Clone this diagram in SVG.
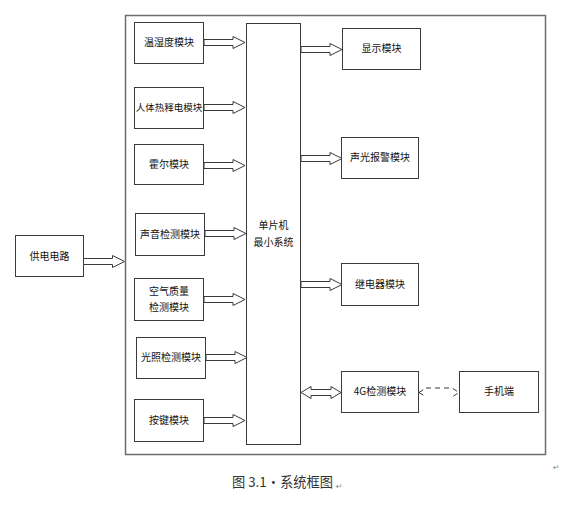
<svg xmlns="http://www.w3.org/2000/svg" width="573" height="514" viewBox="0 0 573 514">
<style>
.box{fill:#fff;stroke:#3a3a3a;stroke-width:1}
.outer{fill:#fff;stroke:#6e6e6e;stroke-width:1.5}
.t{font-family:"Noto Sans CJK SC","Noto Sans",sans-serif;font-size:10px;fill:#111;text-anchor:middle}
.arr{fill:#fff;stroke:#3a3a3a;stroke-width:1}
.cap{font-family:"Noto Sans CJK SC","Liberation Sans",sans-serif;font-size:13.5px;fill:#333}
.mark{font-family:"DejaVu Sans",sans-serif;font-size:8px;fill:#888}
</style>
<defs>
<path id="ra" class="arr" d="M0,-3 H29 V-6 L41,0 L29,6 V3 H0 Z"/>
<path id="da" class="arr" d="M0,0 L10,-6 V-3 H30 V-6 L40,0 L30,6 V3 H10 V6 Z"/>
</defs>
<rect class="outer" x="125.5" y="15.5" width="420" height="439"/>
<g id="power"><rect class="box" x="15.5" y="235.5" width="68" height="41"/><text class="t" x="49.5" y="259.5">供电电路</text></g>
<g id="mcu"><rect class="box" x="246.5" y="23.5" width="54" height="421"/><text class="t" x="273.5" y="229">单片机</text><text class="t" x="273.5" y="246">最小系统</text></g>
<g id="n1"><rect class="box" x="134.5" y="22.5" width="69" height="41"/><text class="t" x="169" y="46">温湿度模块</text></g>
<g id="n2"><rect class="box" x="134.5" y="87.5" width="69" height="41"/><text class="t" x="169" y="111" style="font-size:9.5px">人体热释电模块</text></g>
<g id="n3"><rect class="box" x="134.5" y="144.5" width="69" height="40"/><text class="t" x="169" y="168">霍尔模块</text></g>
<g id="n4"><rect class="box" x="135.5" y="213.5" width="69" height="42"/><text class="t" x="170" y="238">声音检测模块</text></g>
<g id="n5"><rect class="box" x="134.5" y="278.5" width="69" height="42"/><text class="t" x="169" y="295">空气质量</text><text class="t" x="169" y="311">检测模块</text></g>
<g id="n6"><rect class="box" x="136.5" y="337.5" width="69" height="41"/><text class="t" x="171" y="361">光照检测模块</text></g>
<g id="n7"><rect class="box" x="134.5" y="399.5" width="69" height="42"/><text class="t" x="169" y="424">按键模块</text></g>
<g id="o1"><rect class="box" x="342.5" y="28.5" width="78" height="41"/><text class="t" x="381.5" y="52">显示模块</text></g>
<g id="o2"><rect class="box" x="341.5" y="137.5" width="77" height="41"/><text class="t" x="380" y="161">声光报警模块</text></g>
<g id="o3"><rect class="box" x="341.5" y="263.5" width="77" height="42"/><text class="t" x="380" y="288">继电器模块</text></g>
<g id="o4"><rect class="box" x="341.5" y="371.5" width="77" height="41"/><text class="t" x="380" y="395">4G检测模块</text></g>
<g id="phone"><rect class="box" x="459.5" y="371.5" width="79" height="41"/><text class="t" x="499" y="395">手机端</text></g>
<g id="connectors">
<use href="#ra" x="83.5" y="261.5"/>
<use href="#ra" x="204" y="42.5"/>
<use href="#ra" x="204" y="107.5"/>
<use href="#ra" x="204" y="165.5"/>
<use href="#ra" x="205" y="233.5"/>
<use href="#ra" x="204" y="299.5"/>
<use href="#ra" x="206" y="357.5"/>
<use href="#ra" x="204" y="420.5"/>
<use href="#ra" x="301" y="49.5"/>
<use href="#ra" x="301" y="158.5"/>
<use href="#ra" x="301" y="284.5"/>
<use href="#da" x="301" y="392.5"/>
<path d="M419,392.5 L426,388 M426,388 H452 L459,392.5 L452,397 M419,392.5 L426,397" fill="none" stroke="#3a3a3a" stroke-width="1" stroke-dasharray="5,4"/>
</g>
<text class="cap" x="232" y="487" textLength="101" lengthAdjust="spacingAndGlyphs">图 3.1·系统框图</text>
<text class="mark" x="336" y="489">↵</text>
<text class="mark" x="553" y="470">↵</text>
</svg>
